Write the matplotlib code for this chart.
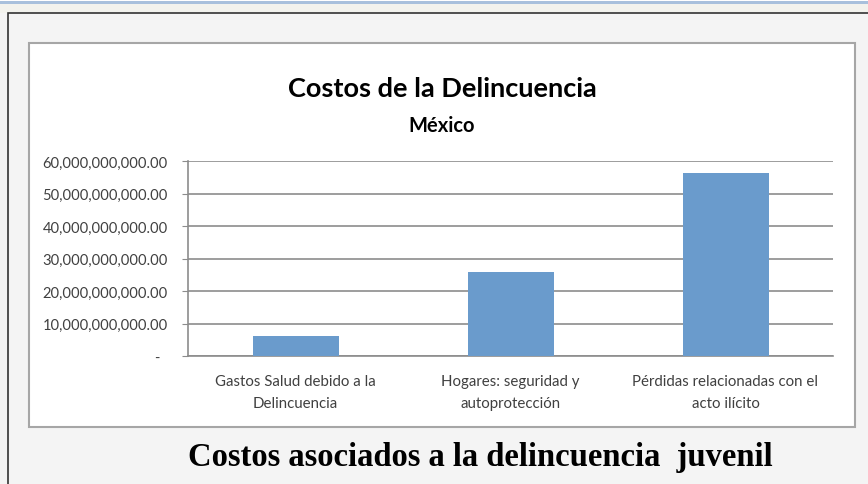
import matplotlib.pyplot as plt
from matplotlib.patches import Rectangle
from matplotlib.ticker import FuncFormatter, MultipleLocator

categorias = ["Gastos Salud debido a la\nDelincuencia",
              "Hogares: seguridad y\nautoprotección",
              "Pérdidas relacionadas con el\nacto ilícito"]
costos = [6.2e9, 25.8e9, 56.3e9]

W, H = 868, 485
fig = plt.figure(figsize=(W / 100, H / 100), dpi=100, facecolor="#f4f4f4")

def box(x0, y0, x1, y1, **kw):
    # rectangle in pixel coords (origin top-left)
    fig.patches.append(Rectangle((x0 / W, 1 - y1 / H), (x1 - x0) / W, (y1 - y0) / H,
                                 transform=fig.transFigure, figure=fig, zorder=0, **kw))

# page background pieces
box(0, 0, W, 14, facecolor="#f2f2ed", edgecolor="none")
box(0, 0, W, 2, facecolor="#ffffff", edgecolor="none")
box(0, 2, W, 5, facecolor="#a8c0dc", edgecolor="none")
box(8, 14, W + 5, H + 5, facecolor="#f4f4f4", edgecolor="#333333", linewidth=1.2)
box(29, 44, 855, 428, facecolor="white", edgecolor="#a6a6a6", linewidth=1.5)

ax = fig.add_axes([188 / W, 1 - 357 / H, 645 / W, (357 - 162) / H], zorder=5)
ax.set_facecolor("white")
ax.bar(range(len(costos)), costos, width=0.4, color="#6a9bcc", zorder=3)
ax.set_xlim(-0.5, 2.5)
ax.set_ylim(0, 60e9)
ax.yaxis.set_major_locator(MultipleLocator(10e9))
ax.yaxis.set_major_formatter(FuncFormatter(lambda v, p: f"{v:,.2f}" if v > 0 else "-  "))
ax.grid(axis="y", color="#8c8c8c", linewidth=1.2, zorder=0)
for s in ["top", "right"]:
    ax.spines[s].set_visible(False)
ax.spines["left"].set_color("#8c8c8c")
ax.spines["bottom"].set_color("#8c8c8c")
ax.spines["left"].set_linewidth(1.2)
ax.spines["bottom"].set_linewidth(1.2)
ax.tick_params(axis="y", length=4, color="#8c8c8c", labelsize=10.6, labelcolor="#404040", pad=10.5)
ax.tick_params(axis="x", length=0, labelsize=10.8, labelcolor="#404040", pad=13)
ax.set_xticks(range(len(costos)))
ax.set_xticklabels(categorias, linespacing=1.75)
for t in ax.get_yticklabels() + ax.get_xticklabels():
    t.set_fontfamily("Lato")

fig.text(442 / W, 1 - 89 / H, "Costos de la Delincuencia", ha="center", va="center",
         fontsize=19.5, fontweight="bold", family="Lato", color="black", zorder=6)
fig.text(442 / W, 1 - 126 / H, "México", ha="center", va="center",
         fontsize=14.5, fontweight="bold", family="Lato", color="black", zorder=6)
fig.text(480 / W, 1 - 458 / H, "Costos asociados a la delincuencia  juvenil", ha="center",
         va="center", fontsize=23.5, fontweight="bold", family="Liberation Serif",
         color="black", zorder=6)

fig.savefig("out.png", dpi=100, facecolor=fig.get_facecolor())
